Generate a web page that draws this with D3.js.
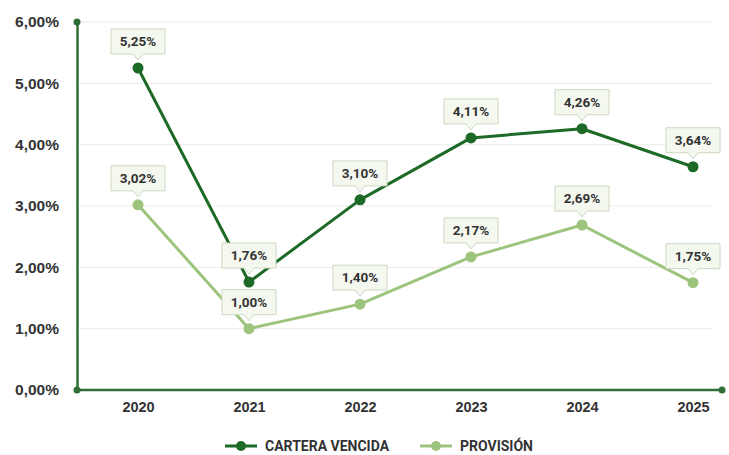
<!DOCTYPE html>
<html>
<head>
<meta charset="utf-8">
<script src="https://cdn.jsdelivr.net/npm/d3@7"></script>
<style>
  html, body { margin: 0; padding: 0; background: #ffffff; }
  svg { display: block; font-family: Roboto, "Noto Sans", sans-serif; }
</style>
</head>
<body>
<svg id="chart" width="729" height="455"></svg>
<script>
// Yearly ratios (percent)
const years = ["2020", "2021", "2022", "2023", "2024", "2025"];
const carteraVencida = [5.25, 1.76, 3.10, 4.11, 4.26, 3.64];
const provision = [3.02, 1.00, 1.40, 2.17, 2.69, 1.75];
const yTicks = [0, 1, 2, 3, 4, 5, 6];
const seriesNames = ["CARTERA VENCIDA", "PROVISIÓN"];

const darkGreen = "#1d6a27";
const lightGreen = "#9dc47c";
const axisGreen = "#2f6e37";
const textColor = "#333333";

const svg = d3.select("#chart");

const axisLeftX = 77, axisRightX = 722;
const yTop = 22, yBottom = 390;

const x = d3.scalePoint().domain(years).range([138, 693]);
const y = d3.scaleLinear().domain([0, 6]).range([yBottom, yTop]);

const fmt = v => d3.format(".2f")(v).replace(".", ",") + "%";

// Horizontal gridlines
svg.append("g")
  .selectAll("line")
  .data(yTicks.filter(t => t > 0))
  .join("line")
  .attr("x1", axisLeftX).attr("x2", 713)
  .attr("y1", d => y(d)).attr("y2", d => y(d))
  .attr("stroke", "#e9ece7").attr("stroke-width", 1);

// Y axis
const yAxis = svg.append("g")
  .attr("transform", `translate(${axisLeftX},0)`)
  .call(d3.axisLeft(y).tickValues(yTicks).tickFormat(fmt).tickSize(0).tickPadding(18));
yAxis.select(".domain").attr("stroke", axisGreen).attr("stroke-width", 2.5);
yAxis.selectAll("text")
  .attr("fill", textColor).attr("font-size", 15.5).attr("font-weight", 700);

// X axis
const xAxis = svg.append("g")
  .attr("transform", `translate(0,${yBottom})`)
  .call(d3.axisBottom(x).tickSize(0).tickPadding(12));
xAxis.select(".domain").remove();
xAxis.append("line")
  .attr("x1", axisLeftX).attr("x2", axisRightX)
  .attr("stroke", axisGreen).attr("stroke-width", 2.5);
xAxis.selectAll("text")
  .attr("fill", textColor).attr("font-size", 14.5).attr("font-weight", 700);

// Axis end dots
[[axisLeftX, yTop], [axisLeftX, yBottom], [axisRightX, yBottom]].forEach(([cx, cy]) => {
  svg.append("circle").attr("cx", cx).attr("cy", cy).attr("r", 3.5).attr("fill", axisGreen);
});

const series = [
  { name: seriesNames[0], values: carteraVencida, color: darkGreen },
  { name: seriesNames[1], values: provision, color: lightGreen }
];

const line = d3.line().x((d, i) => x(years[i])).y(d => y(d));

series.forEach(s => {
  svg.append("path")
    .datum(s.values)
    .attr("d", line)
    .attr("fill", "none")
    .attr("stroke", s.color)
    .attr("stroke-width", 3)
    .attr("stroke-linejoin", "round");

  svg.append("g")
    .selectAll("circle")
    .data(s.values)
    .join("circle")
    .attr("cx", (d, i) => x(years[i]))
    .attr("cy", d => y(d))
    .attr("r", 5.5)
    .attr("fill", s.color);
});

// Value callouts
const boxW = 54, boxH = 25;
series.forEach(s => {
  const g = svg.append("g");
  s.values.forEach((v, i) => {
    const cx = x(years[i]);
    const cy = y(v);
    const bottom = cy - 14;
    const top = bottom - boxH;
    const left = cx - boxW / 2;
    const right = cx + boxW / 2;
    const path = `M${left},${top} H${right} V${bottom} H${cx + 5} L${cx},${bottom + 6} L${cx - 5},${bottom} H${left} Z`;
    g.append("path")
      .attr("d", path)
      .attr("fill", "#f4f8ef")
      .attr("stroke", "#ccd9c2")
      .attr("stroke-width", 1)
      .attr("stroke-linejoin", "round");
    g.append("text")
      .attr("x", cx)
      .attr("y", top + boxH / 2)
      .attr("dy", "0.36em")
      .attr("text-anchor", "middle")
      .attr("font-size", 13.5)
      .attr("font-weight", 700)
      .attr("fill", textColor)
      .text(fmt(v));
  });
});

// Legend
const legend = svg.append("g").attr("transform", "translate(0,446)");
const legendItems = [
  { x: 225, color: darkGreen, label: seriesNames[0] },
  { x: 420, color: lightGreen, label: seriesNames[1] }
];
legendItems.forEach(it => {
  legend.append("line")
    .attr("x1", it.x).attr("x2", it.x + 32)
    .attr("stroke", it.color).attr("stroke-width", 3);
  legend.append("circle")
    .attr("cx", it.x + 16).attr("r", 5).attr("fill", it.color);
  legend.append("text")
    .attr("x", it.x + 40)
    .attr("dy", "0.35em")
    .attr("font-size", 14)
    .attr("font-weight", 700)
    .attr("fill", textColor)
    .text(it.label);
});
</script>
</body>
</html>
